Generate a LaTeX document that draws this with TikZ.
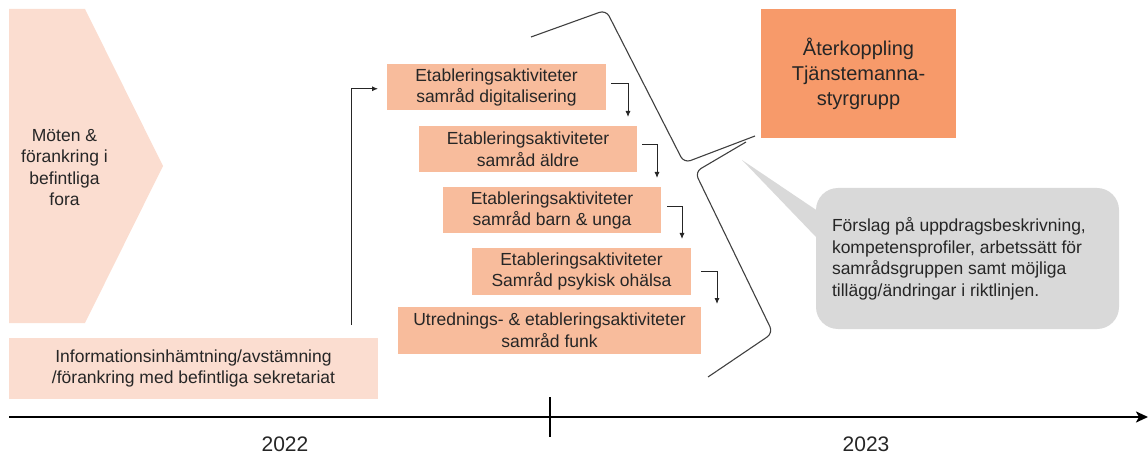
\documentclass[tikz,border=0pt]{standalone}
\usepackage{fontspec}
\setmainfont{Liberation Sans}
\usetikzlibrary{arrows.meta,calc}

\definecolor{peachlight}{HTML}{FBDDD0}
\definecolor{salmon}{HTML}{F8BC9C}
\definecolor{orangebox}{HTML}{F79A6A}
\definecolor{calloutgray}{HTML}{D9D9D9}
\definecolor{bracegray}{HTML}{404040}

\tikzset{
  every node/.style={inner sep=0pt, outer sep=0pt},
  basetext/.style={font=\fontsize{17.5}{21.5}\selectfont, text=black!85},
  actbox/.style={basetext, fill=salmon, anchor=north west, align=center, minimum height=46.5pt},
  infobox/.style={basetext, fill=peachlight, anchor=north west, align=center},
  elbow/.style={draw=black!85, line width=0.9pt, -{Latex[length=6pt,width=5pt]}},
  bracket/.style={draw=bracegray, line width=1.1pt, rounded corners=7pt},
  axis/.style={draw=black, line width=2.4pt, -{Stealth[length=12pt,width=11pt,inset=3pt]}},
  yearlabel/.style={font=\fontsize{21}{25}\selectfont, text=black!85}
}

\begin{document}
\begin{tikzpicture}[x=1pt,y=-1pt]
\useasboundingbox (0,0) rectangle (1148,454);

% chevron on the left
\fill[peachlight] (9,9) -- (85,9) -- (163,166) -- (85,323) -- (9,323) -- cycle;
\node[basetext, align=center] (moten) at (64.5,167.5) {Möten \&\\förankring i\\befintliga\\fora};

% bottom information box
\node[infobox, minimum width=369pt, minimum height=61pt] (info) at (9,338)
  {Informationsinhämtning/avstämning\\/förankring med befintliga sekretariat};

% staircase of activity boxes
\node[actbox, minimum width=219pt] (b1) at (387,64) {Etableringsaktiviteter\\samråd digitalisering};
\node[actbox, minimum width=218pt] (b2) at (419,126) {Etableringsaktiviteter\\samråd äldre};
\node[actbox, minimum width=218pt] (b3) at (443,187) {Etableringsaktiviteter\\samråd barn \& unga};
\node[actbox, minimum width=219pt] (b4) at (472,248) {Etableringsaktiviteter\\Samråd psykisk ohälsa};
\node[actbox, minimum width=303pt] (b5) at (398,307) {Utrednings- \& etableringsaktiviteter\\samråd funk};

% feedback box
\node[basetext, fill=orangebox, anchor=north west, minimum width=195pt, minimum height=129pt,
      align=center, font=\fontsize{20}{25}\selectfont] (aterk) at (761,9)
  {Återkoppling\\Tjänstemanna-\\styrgrupp};

% arrow from the information box up to the first activity
\coordinate (up0) at ($(info.north west)+(342,-13)$);
\draw[elbow] (up0) |- ([xshift=-9pt,yshift=-1.5pt]b1.west);

% step arrows between the activity boxes
\coordinate (s1) at ($(b1.east)+(5,-3.5)$);
\coordinate (e1) at ($(b2.north west)+(209,-9)$);
\coordinate (s2) at ($(b2.east)+(5,-4.5)$);
\coordinate (e2) at ($(b3.north west)+(214,-9)$);
\coordinate (s3) at ($(b3.east)+(6,-4)$);
\coordinate (e3) at ($(b4.north west)+(210,-9)$);
\coordinate (s4) at ($(b4.east)+(10,-0)$);
\coordinate (e4) at ($(b5.north west)+(319,-3)$);
\draw[elbow] (s1) -| (e1);
\draw[elbow] (s2) -| (e2);
\draw[elbow] (s3) -| (e3);
\draw[elbow] (s4) -| (e4);

% bracket grouping the activities
\coordinate (tip) at (755,136);
\draw[bracket] (531,37) -- (606,10) -- (684,163) -- (tip);
\draw[bracket] (746,142) -- (695,172) -- (773,333) -- (708,377);

% speech bubble
\fill[calloutgray] (742,160) -- (840,226) -- (840,262) -- cycle;
\fill[calloutgray, rounded corners=22pt] (816,188) rectangle (1119,329);
\node[basetext, anchor=west, align=left] (bubble) at (832,259)
  {Förslag på uppdragsbeskrivning,\\kompetensprofiler, arbetssätt för\\samrådsgruppen samt möjliga\\tillägg/ändringar i riktlinjen.};

% timeline
\coordinate (ax0) at (9,417);
\coordinate (ax1) at (1148,417);
\coordinate (tk0) at (550,397);
\coordinate (tk1) at (550,437);
\draw[axis] (ax0) -- (ax1);
\draw[black, line width=2pt] (tk0) -- (tk1);
\node[yearlabel] (y22) at (285,444) {2022};
\node[yearlabel] (y23) at (866,444) {2023};
\end{tikzpicture}
\end{document}
